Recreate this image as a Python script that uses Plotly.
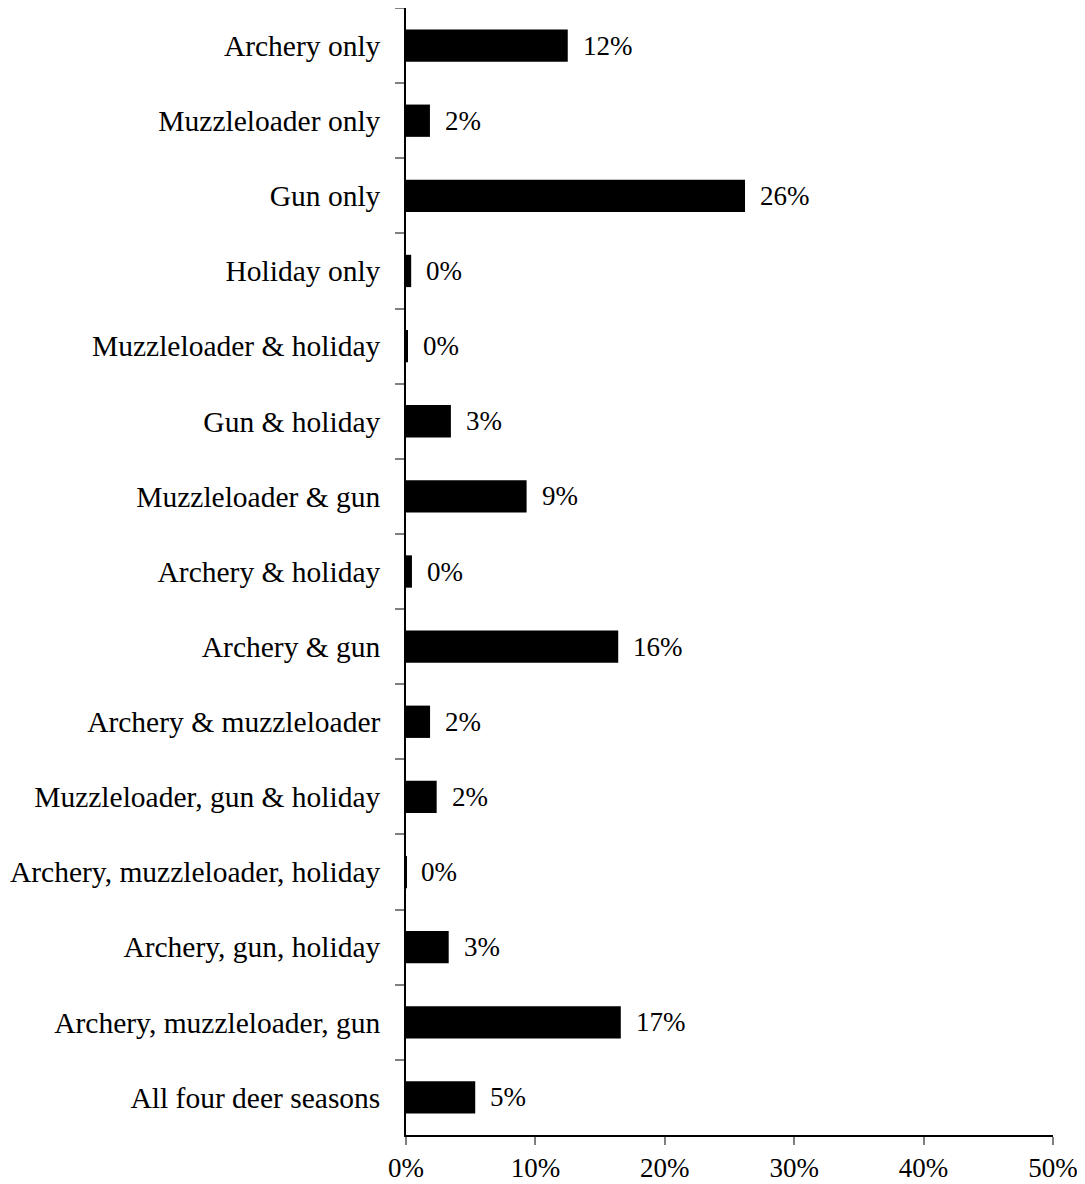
import plotly.graph_objects as go

categories = [
    "Archery only",
    "Muzzleloader only",
    "Gun only",
    "Holiday only",
    "Muzzleloader & holiday",
    "Gun & holiday",
    "Muzzleloader & gun",
    "Archery & holiday",
    "Archery & gun",
    "Archery & muzzleloader",
    "Muzzleloader, gun & holiday",
    "Archery, muzzleloader, holiday",
    "Archery, gun, holiday",
    "Archery, muzzleloader, gun",
    "All four deer seasons",
]
values = [12.5, 1.85, 26.2, 0.40, 0.13, 3.47, 9.32, 0.46, 16.4, 1.86, 2.37, 0.03, 3.3, 16.6, 5.35]
value_labels = ["12%", "2%", "26%", "0%", "0%", "3%", "9%", "0%", "16%", "2%", "2%", "0%", "3%", "17%", "5%"]
x_ticks = [0, 10, 20, 30, 40, 50]

FONT = "Liberation Serif, Times New Roman, serif"

fig = go.Figure()
fig.add_trace(go.Bar(
    x=values, y=categories, orientation="h",
    marker=dict(color="black", line=dict(width=0)),
    width=0.43,
    hoverinfo="skip",
))

for v, c, lab in zip(values, categories, value_labels):
    fig.add_annotation(
        x=v, y=c, text=lab, xref="x", yref="y",
        xanchor="left", yanchor="middle", showarrow=False,
        xshift=13, font=dict(family=FONT, size=27, color="black"),
    )

fig.update_layout(
    width=1077, height=1176,
    margin=dict(l=398, r=32, t=0, b=49),
    plot_bgcolor="white", paper_bgcolor="white",
    font=dict(family=FONT, size=27, color="black"),
    showlegend=False,
)
fig.update_xaxes(
    range=[0, 50], tickvals=x_ticks, ticktext=[f"{t}%" for t in x_ticks],
    showline=True, linecolor="black", linewidth=1.5,
    ticks="outside", ticklen=8, tickcolor="#808080", tickwidth=1.5,
    showgrid=False, zeroline=False,
    tickfont=dict(family=FONT, size=27, color="black"),
)
fig.update_yaxes(
    autorange="reversed", type="category",
    showline=True, linecolor="black", linewidth=1.5,
    ticks="outside", ticklen=9, tickcolor="#808080", tickwidth=1.5,
    tickson="boundaries", ticklabelstandoff=18,
    showgrid=False, zeroline=False,
    tickfont=dict(family=FONT, size=29.5, color="black"),
)

fig.write_html("out.html")
